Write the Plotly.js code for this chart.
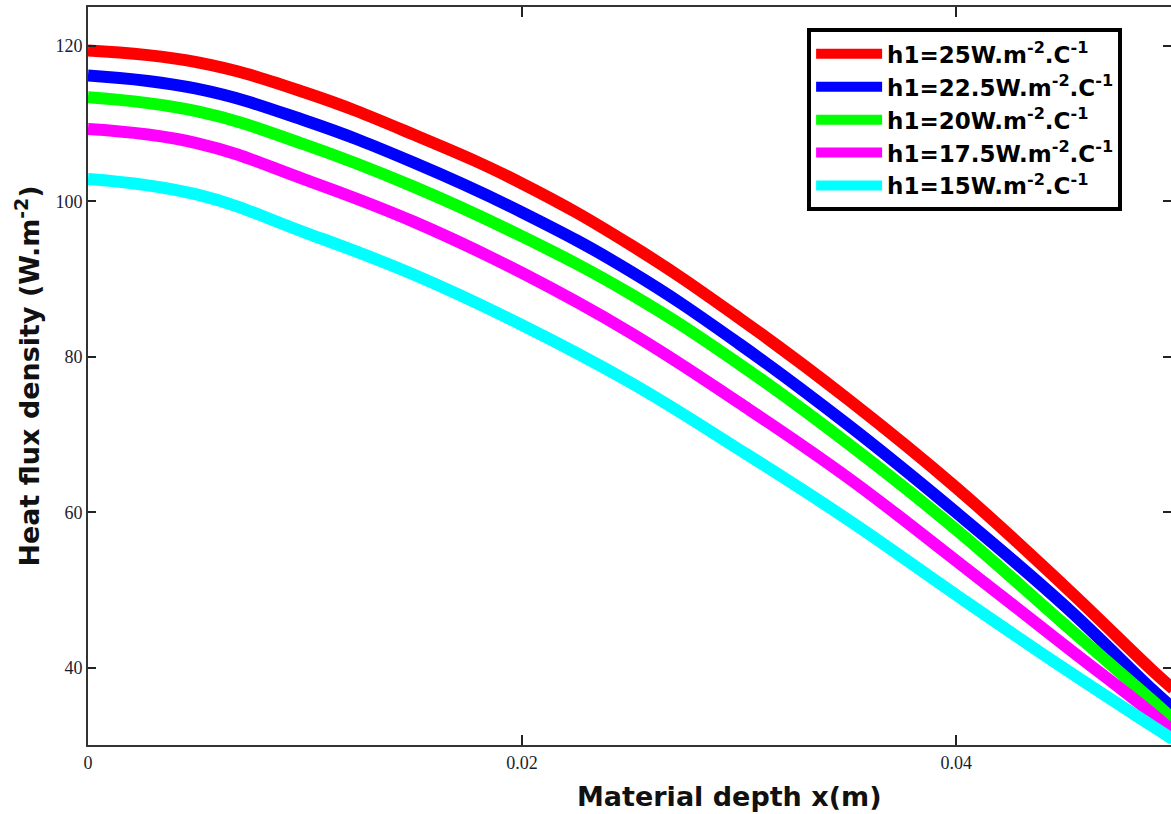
<!DOCTYPE html>
<html>
<head>
<meta charset="utf-8">
<script src="https://cdn.plot.ly/plotly-3.0.1.min.js"></script>
<style>html,body{margin:0;padding:0;background:#fff;}#chart{width:1171px;height:814px;}</style>
</head>
<body>
<div id="chart"></div>
<script>
// Material depth x (m)
const depth = [0, 0.005, 0.01, 0.015, 0.02, 0.025, 0.03, 0.035, 0.04, 0.045, 0.049, 0.05];
// Heat flux density (W.m^-2) for each h1
const q_h25   = [119.4, 117.9, 114.0, 108.6, 102.3, 94.4, 85.0, 74.6, 63.2, 50.5, 39.8, 37.3];
const q_h22_5 = [116.2, 114.5, 110.4, 105.0, 98.6, 91.0, 81.7, 71.3, 60.0, 48.0, 37.3, 34.8];
const q_h20   = [113.4, 111.6, 107.3, 101.9, 95.5, 88.1, 79.1, 68.9, 57.8, 45.6, 35.9, 33.4];
const q_h17_5 = [109.3, 107.5, 102.8, 97.4, 90.8, 83.1, 74.1, 64.5, 53.8, 42.9, 34.2, 31.8];
const q_h15   = [102.9, 100.9, 96.0, 90.6, 84.1, 76.7, 68.1, 59.1, 49.4, 39.9, 32.6, 30.8];

const seriesNames = [
  "h1=25W.m<sup>-2</sup>.C<sup>-1</sup>",
  "h1=22.5W.m<sup>-2</sup>.C<sup>-1</sup>",
  "h1=20W.m<sup>-2</sup>.C<sup>-1</sup>",
  "h1=17.5W.m<sup>-2</sup>.C<sup>-1</sup>",
  "h1=15W.m<sup>-2</sup>.C<sup>-1</sup>"
];
const seriesValues = [q_h25, q_h22_5, q_h20, q_h17_5, q_h15];
const seriesColors = ["#ff0000", "#0000ff", "#00ff00", "#ff00ff", "#00ffff"];

const traces = seriesValues.map((v, i) => ({
  x: depth, y: v, type: "scatter", mode: "lines",
  name: seriesNames[i],
  line: {color: seriesColors[i], width: 12, shape: "spline", smoothing: 1.2}
}));

const tickFont = {family: "Liberation Serif, Times New Roman, serif", size: 18, color: "#1c1c2e"};
const boldFont = "DejaVu Sans, Verdana, sans-serif";

const layout = {
  width: 1171, height: 814,
  margin: {l: 88, r: 0, t: 7, b: 69},
  paper_bgcolor: "#ffffff", plot_bgcolor: "#ffffff",
  showlegend: true,
  legend: {
    x: 0.664, y: 0.971, xanchor: "left", yanchor: "top",
    bgcolor: "#ffffff", bordercolor: "#000000", borderwidth: 4,
    font: {family: boldFont, size: 23, color: "#000000", weight: "bold"},
    itemwidth: 66, tracegroupgap: 0
  },
  xaxis: {
    range: [0, 0.0499], tickvals: [0, 0.02, 0.04], ticktext: ["0", "0.02", "0.04"],
    ticks: "inside", ticklen: 10, tickwidth: 2, tickcolor: "#222",
    showline: true, linewidth: 2, linecolor: "#333", mirror: "ticks",
    showgrid: false, zeroline: false, tickfont: tickFont,
    title: {text: ""}
  },
  yaxis: {
    range: [30.1, 125], tickvals: [40, 60, 80, 100, 120],
    ticks: "inside", ticklen: 8, tickwidth: 2, tickcolor: "#222",
    showline: true, linewidth: 2, linecolor: "#333", mirror: "ticks",
    showgrid: false, zeroline: false, tickfont: tickFont,
    title: {text: "<b>Heat flux density (W.m<sup>-2</sup>)</b>", standoff: 8,
            font: {family: boldFont, size: 27, color: "#111"}}
  },
  annotations: [{
    text: "<b>Material depth x(m)</b>", xref: "paper", yref: "paper",
    x: 0.592, y: -0.046, xanchor: "center", yanchor: "top", showarrow: false,
    font: {family: boldFont, size: 27, color: "#111"}
  }]
};

Plotly.newPlot("chart", traces, layout, {displayModeBar: false, staticPlot: true});
</script>
</body>
</html>
